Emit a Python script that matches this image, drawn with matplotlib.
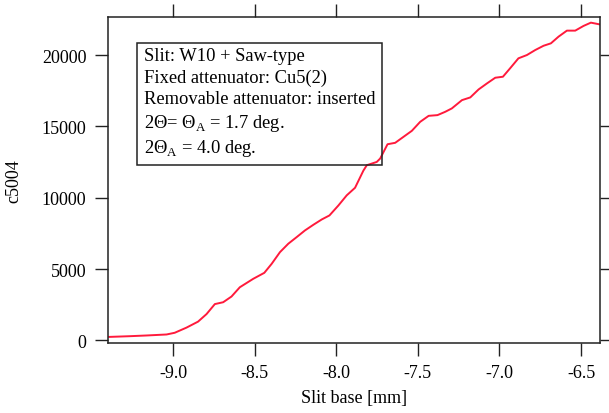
import matplotlib
matplotlib.use("Agg")
import matplotlib.pyplot as plt
import numpy as np

plt.rcParams["font.family"] = ["Liberation Serif", "DejaVu Serif"]
plt.rcParams["mathtext.fontset"] = "custom"
plt.rcParams["mathtext.rm"] = "Liberation Serif"

# scan of slit base vs counter c5004
slit_base = [
    -9.392, -9.266, -9.163, -9.040, -8.990, -8.918, -8.847, -8.795, -8.744, -8.693,
    -8.642, -8.591, -8.509, -8.441, -8.396, -8.345, -8.294, -8.243, -8.192, -8.140,
    -8.089, -8.042, -7.987, -7.936, -7.885, -7.834, -7.813, -7.752, -7.731, -7.686,
    -7.639, -7.588, -7.537, -7.486, -7.434, -7.380, -7.333, -7.292, -7.230, -7.179,
    -7.128, -7.077, -7.026, -6.979, -6.935, -6.884, -6.832, -6.781, -6.730, -6.685,
    -6.638, -6.587, -6.536, -6.485, -6.440, -6.387,
]
c5004 = [
    250, 300, 350, 420, 540, 900, 1320, 1850, 2550, 2680,
    3080, 3730, 4320, 4740, 5370, 6190, 6780, 7240, 7710, 8110,
    8480, 8760, 9460, 10170, 10700, 11900, 12280, 12510, 12750, 13750,
    13850, 14270, 14690, 15320, 15740, 15790, 16020, 16260, 16840, 17030,
    17590, 18010, 18410, 18480, 19070, 19770, 20000, 20350, 20650, 20820,
    21290, 21710, 21710, 22040, 22270, 22150,
]
x_ticks = [-9.0, -8.5, -8.0, -7.5, -7.0, -6.5]
x_ticklabels = ["-9.0", "-8.5", "-8.0", "-7.5", "-7.0", "-6.5"]
y_ticks = [0, 5000, 10000, 15000, 20000]

info_lines = [
    "Slit: W10 + Saw-type",
    "Fixed attenuator: Cu5(2)",
    "Removable attenuator: inserted",
    r"2Θ= Θ$_\mathregular{A}$ = 1.7 deg.",
    r"2Θ$_\mathregular{A}$ = 4.0 deg.",
]

fig = plt.figure(figsize=(6.09, 4.14), dpi=100)
ax = fig.add_axes([0.177, 0.170, 0.808, 0.786])

ax.plot(slit_base, c5004, color="#ff1a3c", linewidth=1.4)
ax.set_xlim(-9.40, -6.385)
ax.set_ylim(-150, 22650)

ax.set_xticks(x_ticks)
ax.set_xticklabels(x_ticklabels)
ax.set_yticks(y_ticks)
ax.tick_params(axis="both", direction="out", length=9.5, width=1.0, color="#222222",
               labelsize=13, pad=6, top=True, right=True)
for side in ax.spines.values():
    side.set_linewidth(1.1)
    side.set_color("#222222")

ax.set_xlabel("Slit base [mm]", fontsize=13, labelpad=6)
ax.set_ylabel("c5004", fontsize=13, labelpad=14)

ax.text(0.073, 0.908, "\n".join(info_lines), transform=ax.transAxes,
        fontsize=13.3, va="top", ha="left", linespacing=1.32,
        bbox=dict(boxstyle="square,pad=0.35", facecolor="none", edgecolor="#222222", linewidth=1.1))

fig.savefig("out.png", dpi=100)
